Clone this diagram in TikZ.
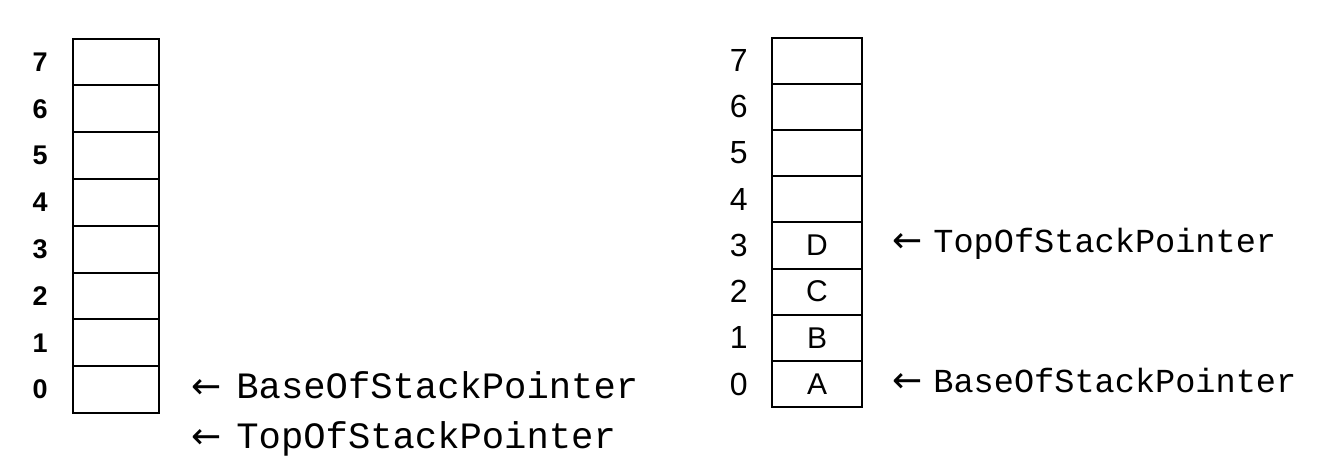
\documentclass[tikz,border=0pt]{standalone}
\usepackage{fontspec}
\setmainfont{Liberation Sans}
\setmonofont{Liberation Mono}
\newfontfamily\arrowfont{DejaVu Sans}
\usetikzlibrary{positioning}
\newcommand{\lft}[1]{\makebox[#1][l]{\arrowfont\fontsize{18}{18}\selectfont ←}}
\tikzset{
  cell/.style = {draw=black, line width=1pt, rectangle, inner sep=0pt, outer sep=0pt,
    minimum width=43pt, minimum height=23.4pt, font=\fontsize{15}{15}\selectfont},
  rcell/.style = {cell, minimum width=45pt, minimum height=23.1pt},
  idx/.style = {inner sep=0pt, font=\fontsize{16}{16}\selectfont},
  idxb/.style = {idx, font=\fontsize{13.5}{13.5}\selectfont\bfseries},
  ptr/.style = {inner sep=0pt, anchor=west, font=\ttfamily\fontsize{18.6}{18.6}\selectfont},
  rptr/.style = {ptr, font=\ttfamily\fontsize{16.8}{16.8}\selectfont}
}
\begin{document}
\begin{tikzpicture}[x=0.5pt, y=-0.5pt]
\useasboundingbox (0,0) rectangle (1328,463);

% empty stack
\node[cell] (l0) at (116,389.5) {};
\foreach \i [remember=\i as \j (initially 0)] in {1,...,7}
  \node[cell, above=0pt of l\j] (l\i) {};
\foreach \i in {0,...,7}
  \node[idxb, left=12.5pt of l\i.west] (ln\i) {\i};
\node[ptr, right=16pt of l0.east, yshift=2pt] (lbase) {\lft{22.5pt}BaseOfStackPointer};
\node[ptr, below=11pt of lbase.south west, anchor=north west] (ltop) {\lft{22.5pt}TopOfStackPointer};

% stack with four items
\node[rcell] (r0) at (817,384) {A};
\node[rcell, above=0pt of r0] (r1) {B};
\node[rcell, above=0pt of r1] (r2) {C};
\node[rcell, above=0pt of r2] (r3) {D};
\foreach \i [remember=\i as \j (initially 3)] in {4,...,7}
  \node[rcell, above=0pt of r\j] (r\i) {};
\foreach \i in {0,...,7}
  \node[idx, left=12pt of r\i.west] (rn\i) {\i};
\node[rptr, right=15pt of r3.east, yshift=1pt] (rtop) {\lft{20.5pt}TopOfStackPointer};
\node[rptr, right=15pt of r0.east, yshift=2pt] (rbase) {\lft{20.5pt}BaseOfStackPointer};
\end{tikzpicture}
\end{document}
